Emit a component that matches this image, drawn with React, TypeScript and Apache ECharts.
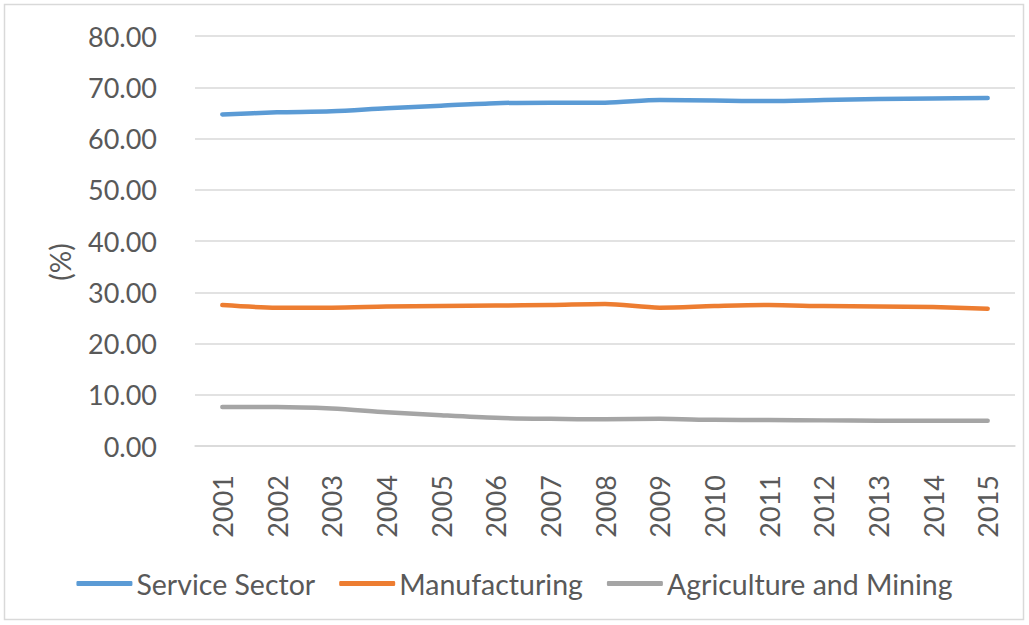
import React, { useEffect, useRef } from "react";
import * as echarts from "echarts";

const years = ["2001","2002","2003","2004","2005","2006","2007","2008","2009","2010","2011","2012","2013","2014","2015"];
const serviceSector = [64.7, 65.1, 65.3, 65.9, 66.4, 66.9, 67.0, 67.0, 67.5, 67.4, 67.3, 67.5, 67.7, 67.8, 67.9];
const manufacturing = [27.5, 27.0, 27.0, 27.2, 27.3, 27.4, 27.5, 27.7, 27.0, 27.3, 27.5, 27.3, 27.2, 27.1, 26.8];
const agricultureMining = [7.6, 7.6, 7.3, 6.6, 6.0, 5.5, 5.3, 5.2, 5.3, 5.1, 5.05, 5.0, 4.95, 4.95, 4.95];
const seriesNames = ["Service Sector", "Manufacturing", "Agriculture and Mining"];
const colors = ["#5B9BD5", "#ED7D31", "#A5A5A5"];

const FONT = "Lato";
const TEXT = "#595959";

export default function App() {
  const ref = useRef<HTMLDivElement>(null);
  useEffect(() => {
    if (!ref.current) return;
    const chart = echarts.init(ref.current, null, { renderer: "svg" });
    const mk = (name: string, data: number[], color: string) => ({
      name,
      type: "line",
      data,
      smooth: 0.3,
      showSymbol: false,
      symbol: "none",
      lineStyle: { color, width: 4.5, cap: "round", join: "round" },
      itemStyle: { color },
    });
    chart.setOption({
      animation: false,
      backgroundColor: "#ffffff",
      textStyle: { fontFamily: FONT },
      grid: { left: 195, right: 14, top: 36, bottom: 179, containLabel: false },
      legend: {
        bottom: 22,
        left: "center",
        itemWidth: 56,
        itemHeight: 5,
        itemGap: 24,
        icon: "roundRect",
        textStyle: { color: TEXT, fontSize: 28.5, fontFamily: FONT, padding: [0, 0, 0, -1] },
        data: seriesNames,
      },
      xAxis: {
        type: "category",
        data: years,
        boundaryGap: true,
        axisLine: { show: true, lineStyle: { color: "#d9d9d9", width: 1.5 } },
        axisTick: { show: false },
        axisLabel: { rotate: 90, margin: 29, color: TEXT, fontSize: 27, fontFamily: FONT },
      },
      yAxis: {
        type: "value",
        min: 0,
        max: 80,
        interval: 10,
        axisLine: { show: false },
        axisTick: { show: false },
        splitLine: { lineStyle: { color: "#d9d9d9", width: 1.5 } },
        axisLabel: {
          margin: 38,
          color: TEXT,
          fontSize: 27,
          fontFamily: FONT,
          formatter: (v: number) => v.toFixed(2),
        },
      },
      graphic: [
        {
          type: "rect",
          shape: { x: 4.5, y: 4.5, width: 1019, height: 615 },
          style: { fill: "none", stroke: "#d9d9d9", lineWidth: 1.5 },
          silent: true,
        },
        {
          type: "text",
          x: 60,
          y: 262,
          rotation: Math.PI / 2,
          style: {
            text: "(%)",
            fill: TEXT,
            font: `28px ${FONT}`,
            textAlign: "center",
            textVerticalAlign: "middle",
          },
        },
      ],
      series: [
        mk(seriesNames[0], serviceSector, colors[0]),
        mk(seriesNames[1], manufacturing, colors[1]),
        mk(seriesNames[2], agricultureMining, colors[2]),
      ],
    });
    return () => chart.dispose();
  }, []);
  return (
    <div
      ref={ref}
      style={{ position: "fixed", left: 0, top: 0, width: 1029, height: 625, background: "#fff" }}
    />
  );
}
